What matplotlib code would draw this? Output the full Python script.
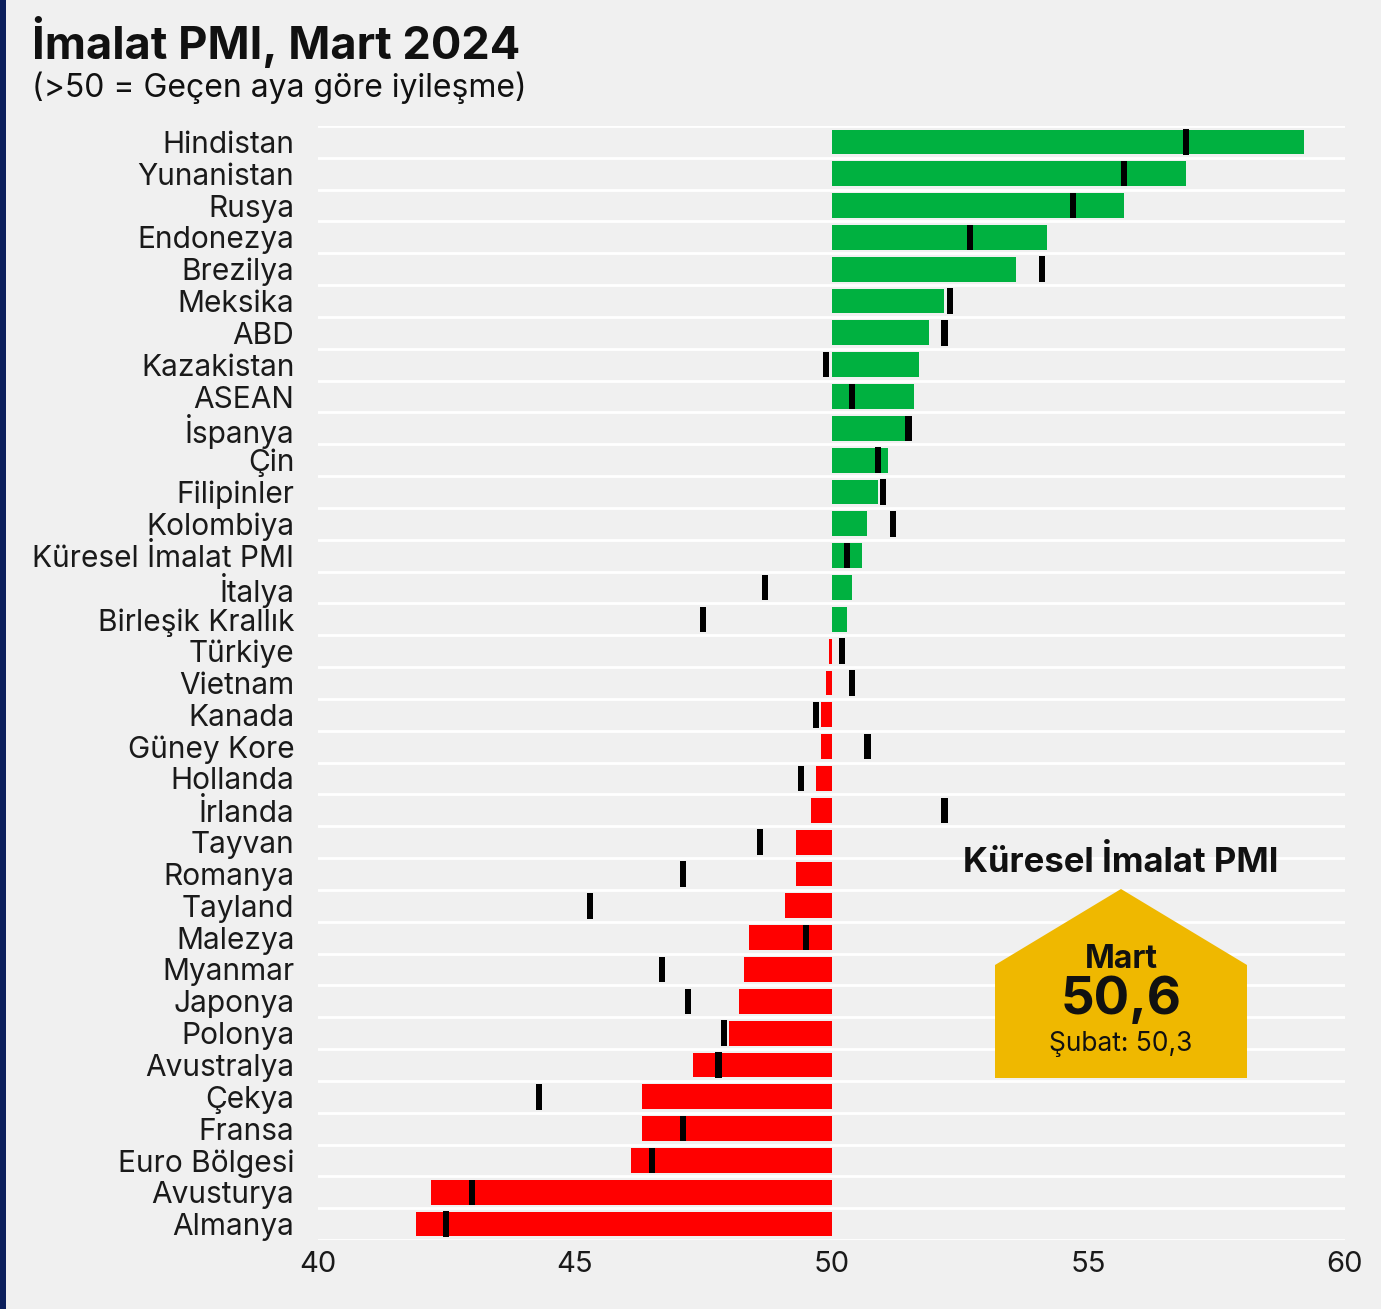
import matplotlib
matplotlib.use('Agg')
import matplotlib.pyplot as plt
from matplotlib.patches import Polygon, Rectangle

# ülkeler (yukarıdan aşağıya)
countries = ['Hindistan', 'Yunanistan', 'Rusya', 'Endonezya', 'Brezilya', 'Meksika', 'ABD',
             'Kazakistan', 'ASEAN', 'İspanya', 'Çin', 'Filipinler', 'Kolombiya',
             'Küresel İmalat PMI', 'İtalya', 'Birleşik Krallık', 'Türkiye', 'Vietnam',
             'Kanada', 'Güney Kore', 'Hollanda', 'İrlanda', 'Tayvan', 'Romanya', 'Tayland',
             'Malezya', 'Myanmar', 'Japonya', 'Polonya', 'Avustralya', 'Çekya', 'Fransa',
             'Euro Bölgesi', 'Avusturya', 'Almanya']
# Mart 2024 PMI
march = [59.2, 56.9, 55.7, 54.2, 53.6, 52.2, 51.9,
         51.7, 51.6, 51.5, 51.1, 50.9, 50.7,
         50.6, 50.4, 50.3, 49.95, 49.9,
         49.8, 49.8, 49.7, 49.6, 49.3, 49.3, 49.1,
         48.4, 48.3, 48.2, 48.0, 47.3, 46.3, 46.3,
         46.1, 42.2, 41.9]
# Şubat 2024 PMI
february = [56.9, 55.7, 54.7, 52.7, 54.1, 52.3, 52.2,
            49.9, 50.4, 51.5, 50.9, 51.0, 51.2,
            50.3, 48.7, 47.5, 50.2, 50.4,
            49.7, 50.7, 49.4, 52.2, 48.6, 47.1, 45.3,
            49.5, 46.7, 47.2, 47.9, 47.8, 44.3, 47.1,
            46.5, 43.0, 42.5]
global_march = 50.6
global_feb = 50.3
x_ticks = [40, 45, 50, 55, 60]

plt.rcParams['font.family'] = ['Inter', 'DejaVu Sans']
W, H = 1381, 1309
bg = '#f0f0f0'
fig = plt.figure(figsize=(W / 100, H / 100), dpi=100, facecolor=bg)
ax = fig.add_axes([318 / W, 1 - 1240 / H, (1345 - 318) / W, (1240 - 126) / H])
ax.set_facecolor(bg)

n = len(countries)
ypos = list(range(n))
colors = ['#00b140' if v >= 50 else '#ff0000' for v in march]
ax.barh(ypos, [v - 50 for v in march], left=50, height=0.78, color=colors, zorder=2)
ax.barh(ypos, 0.12, left=[v - 0.06 for v in february], height=0.8, color='black', zorder=3)

for i in range(-1, n):
    ax.axhline(i + 0.5, color='white', lw=2, zorder=1)

ax.set_xlim(40, 60)
ax.set_ylim(n - 0.5, -0.5)
ax.set_yticks(ypos)
ax.set_yticklabels(countries, fontsize=21.5, color='#1a1a1a')
ax.set_xticks(x_ticks)
ax.set_xticklabels([str(t) for t in x_ticks], fontsize=21, color='#1a1a1a')
ax.tick_params(axis='y', length=0, pad=17)
ax.tick_params(axis='x', length=0, pad=8)
for s in ax.spines.values():
    s.set_visible(False)

# başlık
fig.text(32 / W, 1 - 42 / H, 'İmalat PMI, Mart 2024', fontsize=32.5, fontweight='bold',
         va='center', ha='left', color='#111111')
fig.text(32 / W, 1 - 88 / H, '(>50 = Geçen aya göre iyileşme)', fontsize=23,
         va='center', ha='left', color='#111111')

# küresel kutu
fig.text(1121 / W, 1 - 862 / H, 'Küresel İmalat PMI', fontsize=25, fontweight='bold',
         ha='center', va='center', color='#111111')
pts = [(995, 965), (1121, 889), (1247, 965), (1247, 1078), (995, 1078)]
fig.patches.append(Polygon([(x / W, 1 - y / H) for x, y in pts], closed=True,
                           facecolor='#efb800', edgecolor='none', transform=fig.transFigure))
fig.text(1121 / W, 1 - 959 / H, 'Mart', fontsize=23, fontweight='bold',
         ha='center', va='center', color='#111111')
fig.text(1121 / W, 1 - 1001 / H, f'{global_march:.1f}'.replace('.', ','), fontsize=38,
         fontweight='bold', ha='center', va='center', color='#111111')
fig.text(1121 / W, 1 - 1044 / H, f'Şubat: {global_feb:.1f}'.replace('.', ','), fontsize=19,
         ha='center', va='center', color='#111111')

# sol kenar çizgisi
fig.patches.append(Rectangle((0, 0), 6 / W, 1, facecolor='#0b1f5c', edgecolor='none',
                             transform=fig.transFigure))

fig.savefig('out.png', dpi=100, facecolor=bg)
